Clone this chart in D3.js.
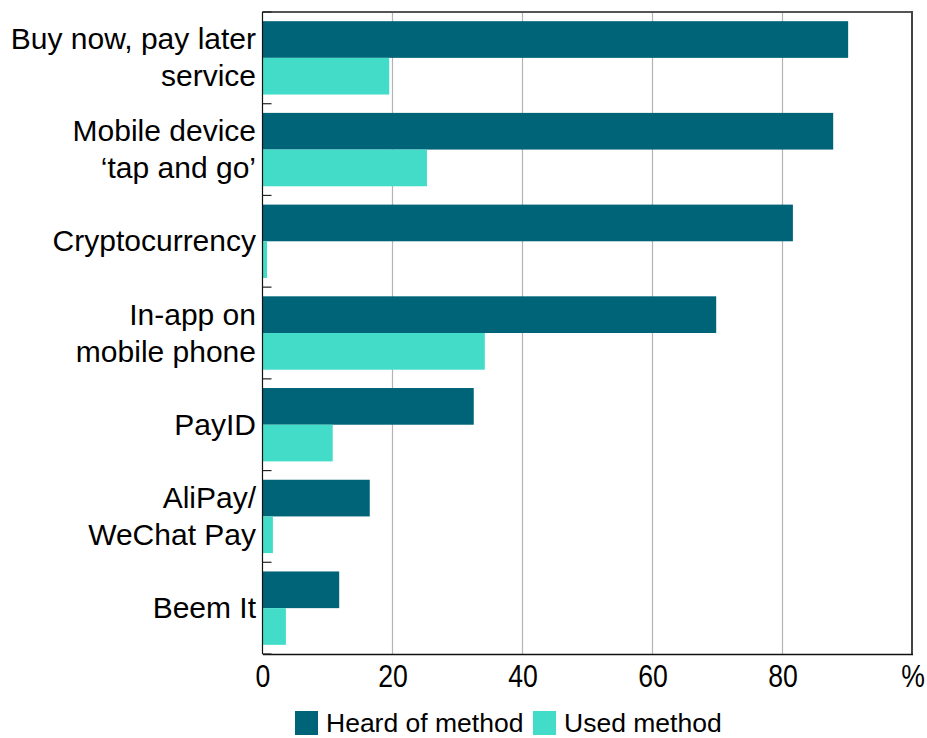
<!DOCTYPE html>
<html>
<head>
<meta charset="utf-8">
<script src="https://cdn.jsdelivr.net/npm/d3@7"></script>
<style>
  body { margin: 0; background: #fff; }
  svg { display: block; font-family: "Liberation Sans", Arial, sans-serif; }
</style>
</head>
<body>
<svg id="chart" width="927" height="738"></svg>
<script>
const categories = [
  ["Buy now, pay later", "service"],
  ["Mobile device", "\u2018tap and go\u2019"],
  ["Cryptocurrency"],
  ["In-app on", "mobile phone"],
  ["PayID"],
  ["AliPay/", "WeChat Pay"],
  ["Beem It"]
];
const heardOf = [90.1, 87.8, 81.6, 69.8, 32.5, 16.5, 11.8];
const usedMethod = [19.5, 25.3, 0.7, 34.2, 10.8, 1.6, 3.6];
const seriesNames = ["Heard of method", "Used method"];
const colors = ["#006479", "#43dcc8"];
const xTicks = [0, 20, 40, 60, 80, 100];
const xTickLabels = ["0", "20", "40", "60", "80", "%"];

const svg = d3.select("#chart");
const plotL = 262.5, plotR = 912, plotT = 12, plotB = 654;

const keys = categories.map((c, i) => i);
const y = d3.scaleBand().domain(keys).range([plotT, plotB]).paddingInner(0.2).paddingOuter(0.1);
const yBand = d3.scaleBand().domain(keys).range([plotT, plotB]);
const x = d3.scaleLinear().domain([0, 100]).range([plotL, plotR + 0.5]);
const sub = d3.scaleBand().domain([0, 1]).range([0, y.bandwidth()]);

// gridlines
svg.append("g").selectAll("line").data(xTicks.filter(t => t > 0 && t < 100)).join("line")
  .attr("x1", d => x(d)).attr("x2", d => x(d))
  .attr("y1", plotT).attr("y2", plotB)
  .attr("stroke", "#b4b4b4").attr("stroke-width", 1.2);

// bars
const series = [heardOf, usedMethod];
series.forEach((vals, s) => {
  svg.append("g").selectAll("rect").data(vals).join("rect")
    .attr("x", x(0))
    .attr("y", (d, i) => y(i) + sub(s))
    .attr("width", d => x(d) - x(0))
    .attr("height", sub.bandwidth())
    .attr("fill", colors[s]);
});

// frame top/right
svg.append("line").attr("x1", plotL).attr("x2", plotR).attr("y1", plotT).attr("y2", plotT)
  .attr("stroke", "#555").attr("stroke-width", 2);
svg.append("line").attr("x1", plotR).attr("x2", plotR).attr("y1", plotT - 1).attr("y2", plotB)
  .attr("stroke", "#444").attr("stroke-width", 2);

// x axis
const xAxis = d3.axisBottom(x).tickValues(xTicks).tickSize(0).tickPadding(0)
  .tickFormat((d, i) => xTickLabels[i]);
const gx = svg.append("g").attr("transform", `translate(0,${plotB})`).call(xAxis);
gx.select(".domain").attr("stroke", "#111").attr("stroke-width", 1.5);
gx.selectAll("text").attr("font-size", 28).attr("fill", "#000")
  .attr("font-family", "Liberation Sans, Arial, sans-serif")
  .attr("y", 0).attr("dy", 0)
  .attr("transform", "translate(0,33) scale(0.95,1.1)");

// y axis line and ticks at category boundaries
svg.append("line").attr("x1", plotL).attr("x2", plotL).attr("y1", plotT).attr("y2", plotB)
  .attr("stroke", "#111").attr("stroke-width", 1.2);
const bounds = keys.map(k => yBand(k)).concat([plotB]);
svg.append("g").selectAll("line").data(bounds).join("line")
  .attr("x1", plotL).attr("x2", plotL + 9)
  .attr("y1", d => d).attr("y2", d => d)
  .attr("stroke", "#222").attr("stroke-width", 1.2);

// y labels
const lab = svg.append("g").attr("font-size", 30).attr("text-anchor", "end").attr("fill", "#000");
categories.forEach((lines, i) => {
  const cy = yBand(i) + yBand.bandwidth() / 2;
  const lh = 37;
  lines.forEach((t, j) => {
    lab.append("text")
      .attr("x", 256)
      .attr("y", cy + 10 + (j - (lines.length - 1) / 2) * lh)
      .text(t);
  });
});

// legend
const legendX = [295, 533];
const lg = svg.append("g");
seriesNames.forEach((n, i) => {
  lg.append("rect").attr("x", legendX[i]).attr("y", 711).attr("width", 23).attr("height", 24).attr("fill", colors[i]);
  lg.append("text").attr("x", legendX[i] + 31).attr("y", 731.5).attr("font-size", 26.5).attr("fill", "#000").text(n);
});
</script>
</body>
</html>
